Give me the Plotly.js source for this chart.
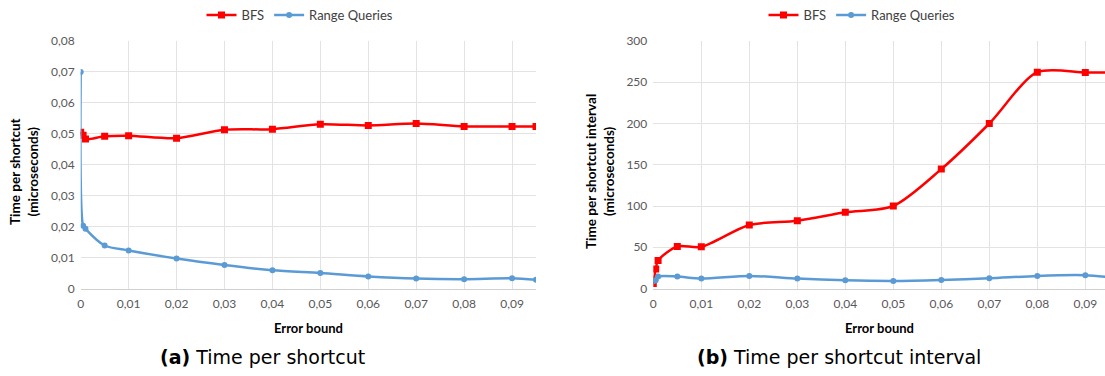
<!DOCTYPE html>
<html><head><meta charset="utf-8">
<script src="https://cdn.plot.ly/plotly-3.0.1.min.js"></script>
<style>html,body{margin:0;padding:0;background:#fff;overflow:hidden}#chart{width:1105px;height:376px}</style>
</head><body><div id="chart"></div>
<script>
// Shared error-bound values
const errorBounds = [0, 0.0005, 0.001, 0.005, 0.01, 0.02, 0.03, 0.04, 0.05, 0.06, 0.07, 0.08, 0.09, 0.095];
// (a) Time per shortcut (microseconds)
const bfsShortcut   = [0.0505, 0.0495, 0.0483, 0.0492, 0.0494, 0.0486, 0.0513, 0.0515, 0.0531, 0.0527, 0.0533, 0.0524, 0.0524, 0.0524];
const rangeShortcut = [0.0700, 0.0203, 0.0193, 0.0139, 0.0123, 0.0097, 0.0076, 0.0059, 0.0050, 0.0039, 0.0032, 0.0030, 0.0033, 0.0028];
// (b) Time per shortcut interval (microseconds)
const bfsInterval   = [6, 23.5, 34, 51, 50.5, 77, 82, 92.3, 100, 144.7, 200, 262.2, 261.8, 262];
const rangeInterval = [8.7, 10, 14.5, 14.5, 12, 15.3, 12, 9.9, 9.1, 10.3, 12.4, 15.3, 16.1, 13.6];

const yTicksA = [0, 0.01, 0.02, 0.03, 0.04, 0.05, 0.06, 0.07, 0.08];
const yTicksB = [0, 50, 100, 150, 200, 250, 300];
const xTicks  = [0, 0.01, 0.02, 0.03, 0.04, 0.05, 0.06, 0.07, 0.08, 0.09];

const W = 1105, H = 376;
const px = x => x / W, py = y => 1 - y / H;
const RED = '#FF0000', BLUE = '#5B9BD5';
const FONT = 'Lato, "Open Sans", sans-serif';

function line(name, x, y, color, symbol, xa, ya, legend) {
  return {x, y, name, type: 'scatter', mode: 'lines+markers', xaxis: xa, yaxis: ya, legend,
    line: {color, width: 2.5, shape: 'spline', smoothing: 0.8},
    marker: {color, symbol, size: symbol === 'square' ? 7 : 6}};
}
const data = [
  line('BFS', errorBounds, bfsShortcut, RED, 'square', 'x', 'y', 'legend'),
  line('Range Queries', errorBounds, rangeShortcut, BLUE, 'circle', 'x', 'y', 'legend'),
  line('BFS', errorBounds, bfsInterval, RED, 'square', 'x2', 'y2', 'legend2'),
  line('Range Queries', errorBounds, rangeInterval, BLUE, 'circle', 'x2', 'y2', 'legend2'),
];

const tickFont = {family: FONT, size: 12, color: '#595959'};
function xax(domain, range, anchor) {
  return {domain, range, anchor, tickvals: xTicks, showgrid: true, gridcolor: '#E3E3E3', gridwidth: 1,
    zeroline: false, showline: true, linecolor: '#D0D0D0', ticks: '', tickfont: tickFont, ticklabelstandoff: 4, fixedrange: true};
}
function yax(domain, range, tickvals, anchor) {
  return {domain, range, anchor, tickvals, showgrid: true, gridcolor: '#E3E3E3', gridwidth: 1,
    zeroline: false, showline: false, ticks: '', tickfont: tickFont, ticklabelstandoff: 5, fixedrange: true};
}
const yDom = [py(288.5), py(41)];
const legendCommon = {orientation: 'h', xanchor: 'center', y: py(15), yanchor: 'middle',
  font: {family: FONT, size: 13, color: '#404040'}, itemwidth: 30, tracegroupgap: 0, bgcolor: 'rgba(0,0,0,0)'};
function ann(text, x, y, size, family, angle) {
  return {text, x: px(x), y: py(y), xref: 'paper', yref: 'paper', xanchor: 'center', yanchor: 'middle',
    textangle: angle || 0, showarrow: false, font: {family, size, color: '#000'}};
}
const CAP = '"DejaVu Sans", sans-serif';
const layout = {
  width: W, height: H, margin: {l: 0, r: 0, t: 0, b: 0},
  paper_bgcolor: '#fff', plot_bgcolor: '#fff', separators: ', ',
  font: {family: FONT, color: '#595959'},
  xaxis: xax([px(80.7), px(536)], [0, 0.095], 'y'),
  yaxis: yax(yDom, [0, 0.08], yTicksA, 'x'),
  xaxis2: xax([px(653.3), 1], [0, 0.0941], 'y2'),
  yaxis2: yax(yDom, [0, 300], yTicksB, 'x2'),
  legend: Object.assign({x: px(300)}, legendCommon),
  legend2: Object.assign({x: px(862)}, legendCommon),
  annotations: [
    ann('<b>Time per shortcut</b><br><b>(microseconds)</b>', 24, 172, 13.5, FONT, -90),
    ann('<b>Time per shortcut interval</b><br><b>(microseconds)</b>', 600, 172, 13.5, FONT, -90),
    ann('<b>Error bound</b>', 308, 328, 13, FONT),
    ann('<b>Error bound</b>', 880, 328, 13, FONT),
    ann('<b>(a)</b> Time per shortcut', 262, 357, 19, CAP),
    ann('<b>(b)</b> Time per shortcut interval', 839, 357, 19, CAP),
  ]
};
Plotly.newPlot('chart', data, layout, {displayModeBar: false, staticPlot: true});
</script></body></html>
